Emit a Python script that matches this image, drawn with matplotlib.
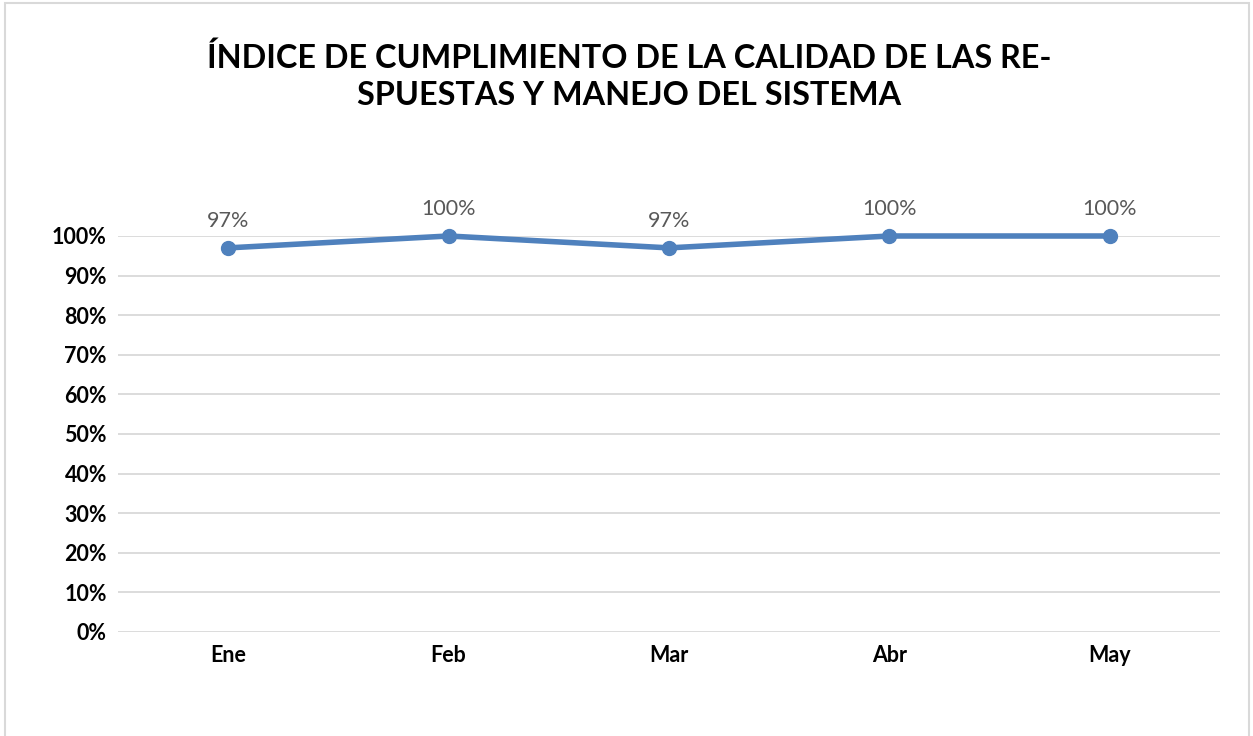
import matplotlib.pyplot as plt
from matplotlib.patches import Rectangle
from matplotlib.ticker import PercentFormatter

plt.rcParams['font.family'] = ['Lato', 'DejaVu Sans']

meses = ['Ene', 'Feb', 'Mar', 'Abr', 'May']
indice = [0.97, 1.00, 0.97, 1.00, 1.00]
etiquetas = ['97%', '100%', '97%', '100%', '100%']
yticks = [i / 10 for i in range(11)]

fig = plt.figure(figsize=(12.53, 7.36), dpi=100)
fig.patches.append(Rectangle((5 / 1253, -0.1), 1244 / 1253, 1 - 3 / 736 + 0.1,
                             transform=fig.transFigure, fill=False,
                             edgecolor='#d9d9d9', linewidth=1.5))

ax = fig.add_axes([118 / 1253, 1 - 632 / 736, 1102 / 1253, 396 / 736])
x = list(range(len(meses)))
ax.plot(x, indice, color='#4f81bd', linewidth=4, marker='o', markersize=10,
        clip_on=False, zorder=3)
for xi, yi, t in zip(x, indice, etiquetas):
    ax.annotate(t, (xi, yi), xytext=(0, 12.5), textcoords='offset points',
                ha='center', va='bottom', fontsize=15.5, color='#595959')

ax.set_xlim(-0.5, len(meses) - 0.5)
ax.set_ylim(0, 1.0)
ax.set_yticks(yticks)
ax.yaxis.set_major_formatter(PercentFormatter(1.0, decimals=0))
ax.set_xticks(x)
ax.set_xticklabels(meses)
ax.grid(axis='y', color='#d9d9d9', linewidth=1.3)
ax.set_axisbelow(True)
for s in ax.spines.values():
    s.set_visible(False)
ax.tick_params(length=0, labelsize=15.5)
ax.tick_params(axis='x', pad=9)
ax.tick_params(axis='y', pad=8)
for lab in ax.get_xticklabels() + ax.get_yticklabels():
    lab.set_fontweight('bold')

fig.text(629 / 1253, 1 - 76 / 736,
         'ÍNDICE DE CUMPLIMIENTO DE LA CALIDAD DE LAS RE-\nSPUESTAS Y MANEJO DEL SISTEMA',
         ha='center', va='center', fontsize=23.3, fontweight='bold',
         linespacing=1.32)

fig.savefig('out.png', dpi=100)
